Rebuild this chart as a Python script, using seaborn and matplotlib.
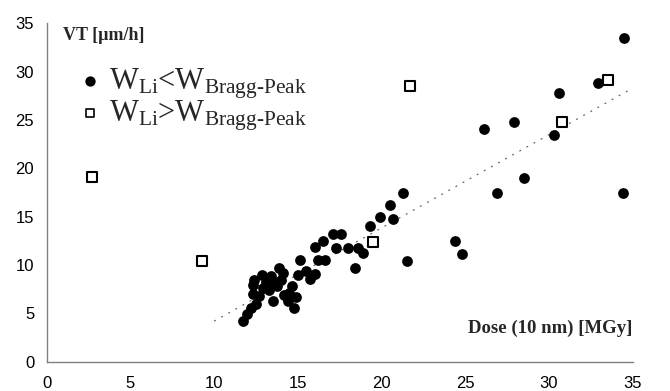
import matplotlib
matplotlib.use("Agg")
import matplotlib.pyplot as plt
import seaborn as sns
import pandas as pd
import numpy as np

# ---- data ----
below_x = [11.7, 11.95, 12.2, 12.3, 12.35, 12.4, 12.5, 12.7, 12.85, 12.9, 13.1, 13.3, 13.4, 13.5,
           13.6, 13.75, 13.9, 14.0, 14.1, 14.2, 14.4, 14.5, 14.65, 14.8, 14.9, 15.0, 15.1, 15.5,
           15.7, 16.0, 16.0, 16.2, 16.6, 16.5, 17.1, 17.6, 17.3, 18.0, 18.6, 18.9, 18.4, 19.3,
           19.9, 20.7, 20.5, 21.3, 21.5, 24.4, 24.8, 26.1, 26.9, 27.9, 28.5, 30.3, 30.6, 32.9,
           34.4, 34.5]
below_y = [4.2, 4.9, 5.6, 7.0, 7.9, 8.4, 6.0, 6.8, 9.0, 7.6, 8.2, 7.4, 8.9, 6.3,
           8.2, 7.8, 9.7, 8.4, 9.2, 6.9, 6.3, 7.1, 7.8, 5.6, 6.7, 9.0, 10.5, 9.4,
           8.6, 9.1, 11.9, 10.5, 10.5, 12.5, 13.2, 13.2, 11.8, 11.8, 11.8, 11.2, 9.7, 14.0,
           15.0, 14.8, 16.2, 17.5, 10.4, 12.5, 11.1, 24.1, 17.5, 24.8, 19.0, 23.4, 27.8, 28.8,
           17.5, 33.5]
above_x = [2.7, 9.3, 19.5, 21.7, 30.8, 33.5]
above_y = [19.1, 10.4, 12.4, 28.5, 24.8, 29.1]
trend_x = [10.0, 35.0]
trend_y = [4.2, 28.3]
x_ticks = [0, 5, 10, 15, 20, 25, 30, 35]
y_ticks = [0, 5, 10, 15, 20, 25, 30, 35]
label_below = r"W$_{\mathregular{Li}}$<W$_{\mathregular{Bragg\text{-}Peak}}$"
label_above = r"W$_{\mathregular{Li}}$>W$_{\mathregular{Bragg\text{-}Peak}}$"

sns.set_theme(style="white")
plt.rcParams['font.family'] = ['Liberation Sans', 'DejaVu Sans']
plt.rcParams['mathtext.fontset'] = 'custom'
plt.rcParams['mathtext.rm'] = 'Liberation Serif'
plt.rcParams['mathtext.it'] = 'Liberation Serif'
plt.rcParams['mathtext.bf'] = 'Liberation Serif:bold'

fig = plt.figure(figsize=(6.7, 3.91), dpi=100)
ax = fig.add_axes([0.0697, 0.0749, 0.8746, 0.8655])

df_b = pd.DataFrame({"x": below_x, "y": below_y})
df_a = pd.DataFrame({"x": above_x, "y": above_y})
df_t = pd.DataFrame({"x": trend_x, "y": trend_y})

sns.lineplot(data=df_t, x="x", y="y", ax=ax, color="#666666", lw=0.9,
             linestyle=(0, (1.5, 5)), zorder=1)
sns.scatterplot(data=df_b, x="x", y="y", ax=ax, marker="o", s=60, color="black",
                edgecolor="black", linewidth=0, zorder=3, label=label_below)
sns.scatterplot(data=df_a, x="x", y="y", ax=ax, marker="s", s=42, facecolor="white",
                edgecolor="black", linewidth=1.5, zorder=4, label=label_above)

ax.set_xlim(0, 35)
ax.set_ylim(0, 35)
ax.set_xticks(x_ticks)
ax.set_yticks(y_ticks)
ax.set_xlabel("")
ax.set_ylabel("")
for s in ["top", "right"]:
    ax.spines[s].set_visible(False)
for s in ["left", "bottom"]:
    ax.spines[s].set_color("#808080")
    ax.spines[s].set_linewidth(1.0)
ax.tick_params(axis="both", direction="inout", length=8, width=1.0, color="#808080",
               labelsize=12, labelcolor="black", pad=5)
ax.tick_params(axis="x", pad=6)

leg = ax.legend(loc="upper left", bbox_to_anchor=(0.03, 0.91), frameon=False,
                prop={"family": "Liberation Serif", "size": 22}, handletextpad=0.15,
                handlelength=0.9, labelspacing=-0.08, borderaxespad=0)
sizes = [55, 35]
for h, sz in zip(leg.legend_handles, sizes):
    h.set_sizes([sz])
leg.legend_handles[1].set_linewidth(1.2)

ax.text(0.028, 0.965, "VT [µm/h]", transform=ax.transAxes, ha="left", va="center",
        fontfamily="Liberation Serif", fontweight="bold", fontsize=13)
ax.text(1.0, 0.1, "Dose (10 nm) [MGy]", transform=ax.transAxes, ha="right", va="center",
        fontfamily="Liberation Serif", fontweight="bold", fontsize=13.5)

fig.savefig("out.png", dpi=100)
